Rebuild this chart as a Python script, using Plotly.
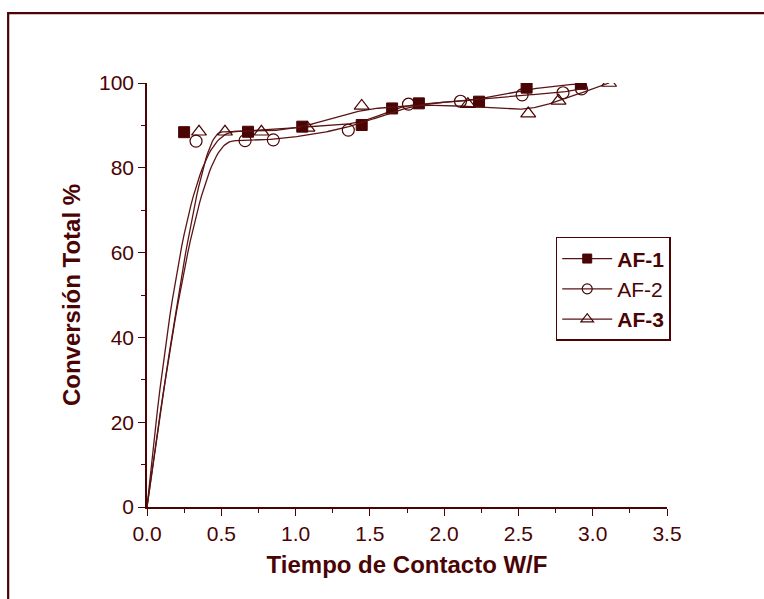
import numpy as np
import plotly.graph_objects as go

# ---- data ----
af1_x = [0.0, 0.25, 0.68, 1.045, 1.445, 1.65, 1.83, 2.235, 2.555, 2.92]
af1_y = [0.0, 88.4, 88.5, 89.7, 90.1, 94.0, 95.2, 95.6, 98.9, 99.8]

af2_x = [0.0, 0.33, 0.66, 0.85, 1.355, 1.76, 2.11, 2.525, 2.80, 2.925]
af2_y = [0.0, 86.3, 86.4, 86.6, 88.9, 95.0, 95.7, 97.2, 97.7, 98.6]

af3_x = [0.0, 0.35, 0.525, 0.77, 1.08, 1.445, 2.16, 2.566, 2.77, 3.11]
af3_y = [0.0, 88.5, 88.5, 88.5, 89.4, 94.6, 95.0, 92.8, 95.8, 100.0]

names = ["<b>AF-1</b>", "AF-2", "<b>AF-3</b>"]
x_ticks = [0.0, 0.5, 1.0, 1.5, 2.0, 2.5, 3.0, 3.5]
y_ticks = [0, 20, 40, 60, 80, 100]

C = "#4a0404"
LINE_C = "#5a1414"
FONT = "Liberation Sans, Arial"


def bspline(xs, ys, n=300, k=3):
    """Clamped cubic B-spline using the data points as control points (Origin-style B-Spline line)."""
    P = np.column_stack([xs, ys]).astype(float)
    m = len(P)
    inner = np.linspace(0, 1, m - k + 1)
    knots = np.concatenate([np.zeros(k), inner, np.ones(k)])
    t = np.linspace(0, 1, n)

    def basis(i, p, tt):
        if p == 0:
            b = ((knots[i] <= tt) & (tt < knots[i + 1])).astype(float)
            if knots[i + 1] == 1.0 and knots[i] < 1.0:
                b[tt == 1.0] = 1.0
            return b
        out = np.zeros_like(tt)
        d1 = knots[i + p] - knots[i]
        d2 = knots[i + p + 1] - knots[i + 1]
        if d1 > 0:
            out += (tt - knots[i]) / d1 * basis(i, p - 1, tt)
        if d2 > 0:
            out += (knots[i + p + 1] - tt) / d2 * basis(i + 1, p - 1, tt)
        return out

    B = np.array([basis(i, k, t) for i in range(m)])
    curve = B.T @ P
    return curve[:, 0], curve[:, 1]


series = [
    (af1_x, af1_y, dict(symbol="square", size=11, color=C, line=dict(color=C, width=1))),
    (af2_x, af2_y, dict(symbol="circle-open", size=12, color=C, line=dict(color=C, width=1.2))),
    (af3_x, af3_y, dict(symbol="triangle-up-open", size=13, color=C, line=dict(color=C, width=1.2))),
]

fig = go.Figure()
for (xs, ys, mk), nm in zip(series, names):
    cx, cy = bspline(xs, ys)
    fig.add_trace(go.Scatter(x=cx, y=cy, mode="lines", line=dict(color=LINE_C, width=1.3),
                             showlegend=False, hoverinfo="skip"))
    fig.add_trace(go.Scatter(x=xs[1:], y=ys[1:], mode="markers", marker=mk, showlegend=False))
    # legend entry: line with marker in the middle
    lm = dict(mk)
    lm["size"] = mk["size"] - 2
    fig.add_trace(go.Scatter(x=[None], y=[None], mode="lines+markers", name=nm,
                             line=dict(color=LINE_C, width=1.2), marker=lm))

axis_common = dict(
    showline=True, linecolor=C, linewidth=1.6, mirror=False,
    ticks="outside", ticklen=7, tickwidth=1.4, tickcolor=C,
    showgrid=False, zeroline=False,
    tickfont=dict(family=FONT, size=21, color=C),
)

fig.update_layout(
    width=764, height=599,
    margin=dict(l=147, r=97, t=83, b=92),
    paper_bgcolor="white", plot_bgcolor="white",
    xaxis=dict(range=[0, 3.5], tickvals=x_ticks, ticktext=[f"{v:.1f}" for v in x_ticks],
               minor=dict(ticks="outside", ticklen=4, tickwidth=1.2, tickcolor=C, dtick=0.25),
               title=dict(text="<b>Tiempo de Contacto W/F</b>", standoff=12,
                          font=dict(family=FONT, size=24, color=C)),
               **axis_common),
    yaxis=dict(range=[0, 100], tickvals=y_ticks,
               minor=dict(ticks="outside", ticklen=4, tickwidth=1.2, tickcolor=C, dtick=10),
               title=dict(text="<b>Conversión Total %</b>", standoff=12,
                          font=dict(family=FONT, size=24, color=C)),
               **axis_common),
    legend=dict(x=0.786, y=0.637, xanchor="left", yanchor="top",
                bordercolor=C, borderwidth=1.5, bgcolor="white",
                font=dict(family=FONT, size=21, color=C),
                tracegroupgap=0, itemwidth=50),
    shapes=[dict(type="rect", xref="paper", yref="paper",
                 x0=-0.267, x1=1.4, y0=-0.5, y1=1.165,
                 line=dict(color=C, width=2.2), fillcolor="rgba(0,0,0,0)", layer="below")],
)

fig.write_html("out.html")
